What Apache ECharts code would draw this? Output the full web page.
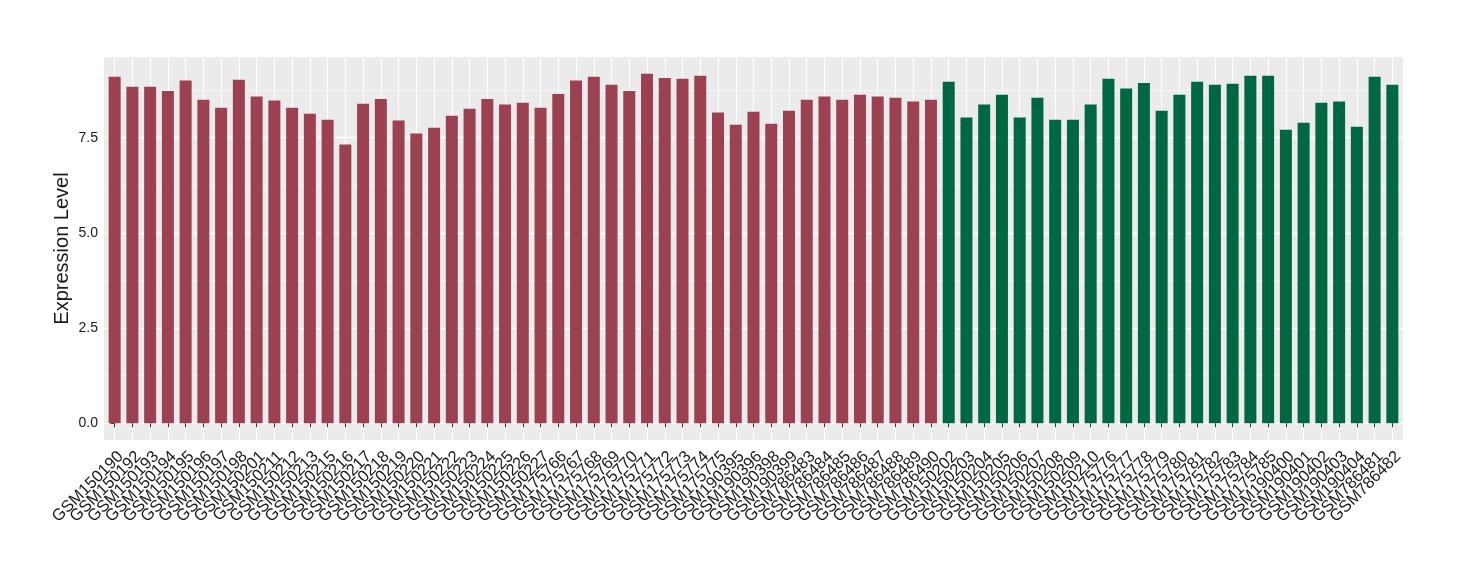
<!DOCTYPE html>
<html>
<head>
<meta charset="utf-8">
<script src="https://cdn.jsdelivr.net/npm/echarts@6/dist/echarts.min.js"></script>
<style>
  html, body { margin: 0; padding: 0; background: #fff; }
  #chart { width: 1460px; height: 580px; }
</style>
</head>
<body>
<div id="chart"></div>
<script>
// first group (red)
const groupASamples = [
  'GSM150190', 'GSM150192', 'GSM150193', 'GSM150194', 'GSM150195', 'GSM150196', 'GSM150197', 'GSM150198',
  'GSM150201', 'GSM150211', 'GSM150212', 'GSM150213', 'GSM150215', 'GSM150216', 'GSM150217', 'GSM150218',
  'GSM150219', 'GSM150220', 'GSM150221', 'GSM150222', 'GSM150223', 'GSM150224', 'GSM150225', 'GSM150226',
  'GSM150227', 'GSM175766', 'GSM175767', 'GSM175768', 'GSM175769', 'GSM175770', 'GSM175771', 'GSM175772',
  'GSM175773', 'GSM175774', 'GSM175775', 'GSM190395', 'GSM190396', 'GSM190398', 'GSM190399', 'GSM786483',
  'GSM786484', 'GSM786485', 'GSM786486', 'GSM786487', 'GSM786488', 'GSM786489', 'GSM786490'
]
const groupAValues = [
  9.10, 8.84, 8.84, 8.73, 9.00, 8.50, 8.29, 9.02,
  8.58, 8.48, 8.29, 8.13, 7.97, 7.32, 8.39, 8.52,
  7.95, 7.61, 7.76, 8.08, 8.26, 8.52, 8.37, 8.42,
  8.29, 8.65, 9.00, 9.10, 8.89, 8.73, 9.18, 9.07,
  9.05, 9.13, 8.16, 7.84, 8.18, 7.87, 8.21, 8.50,
  8.58, 8.50, 8.63, 8.58, 8.55, 8.45, 8.50
]
// second group (green)
const groupBSamples = [
  'GSM150202', 'GSM150203', 'GSM150204', 'GSM150205', 'GSM150206', 'GSM150207', 'GSM150208', 'GSM150209',
  'GSM150210', 'GSM175776', 'GSM175777', 'GSM175778', 'GSM175779', 'GSM175780', 'GSM175781', 'GSM175782',
  'GSM175783', 'GSM175784', 'GSM175785', 'GSM190400', 'GSM190401', 'GSM190402', 'GSM190403', 'GSM190404',
  'GSM786481', 'GSM786482'
]
const groupBValues = [
  8.97, 8.03, 8.37, 8.63, 8.03, 8.55, 7.97, 7.97,
  8.37, 9.05, 8.79, 8.94, 8.21, 8.63, 8.97, 8.89,
  8.92, 9.13, 9.13, 7.71, 7.89, 8.42, 8.45, 7.79,
  9.10, 8.89
]
const yTicks = [0, 2.5, 5, 7.5]
const yMinorTicks = [1.25, 3.75, 6.25, 8.75]

const samples = groupASamples.concat(groupBSamples)
const sampleIdx = samples.map((s, i) => i)
const nA = groupASamples.length

const chart = echarts.init(document.getElementById('chart'))
const textColor = '#1a1a1a'

// panel px and a discrete step with ggplot's 0.6 padding on each side
const panel = { left: 104, right: 57, top: 57, bottom: 140 }
const step = (1460 - panel.left - panel.right) / (samples.length - 1 + 1.2)
const inset = step * 0.1

const option = {
  animation: false,
  backgroundColor: '#ffffff',
  textStyle: { fontFamily: 'Liberation Sans, Arial, sans-serif' },
  grid: [
    {
      left: panel.left, right: panel.right, top: panel.top, bottom: panel.bottom,
      show: true, backgroundColor: '#EBEBEB', borderWidth: 0
    },
    {
      // only for the sample labels
      left: panel.left + inset, right: panel.right + inset, top: panel.top, bottom: panel.bottom,
      show: false
    }
  ],
  xAxis: [
    {
      type: 'value',
      gridIndex: 0,
      min: -0.6,
      max: samples.length - 0.4,
      axisLine: { show: false },
      axisTick: { customValues: sampleIdx, length: 4, lineStyle: { color: '#333', width: 1 } },
      axisLabel: { show: false },
      splitLine: { show: true, lineStyle: { color: '#ffffff', width: 1.1 } }
    },
    {
      type: 'category',
      gridIndex: 1,
      data: samples,
      axisLine: { show: false },
      axisTick: { show: false },
      axisLabel: {
        interval: 0,
        rotate: 45,
        align: 'right',
        verticalAlign: 'top',
        fontSize: 16.5,
        color: textColor,
        margin: 8
      },
      splitLine: { show: false }
    }
  ],
  yAxis: [
    {
      type: 'value',
      gridIndex: 0,
      min: -0.44,
      max: 9.62,
      name: 'Expression Level',
      nameLocation: 'middle',
      nameGap: 32,
      nameMoveOverlap: false,
      nameTextStyle: { fontSize: 20, color: textColor },
      axisLine: { show: false },
      axisTick: { customValues: yTicks, length: 4, lineStyle: { color: '#333', width: 1 } },
      axisLabel: {
        customValues: yTicks,
        formatter: v => v.toFixed(1),
        fontSize: 14,
        color: textColor,
        margin: 6
      },
      splitLine: { show: true, lineStyle: { color: '#ffffff', width: 1.3 } }
    },
    {
      type: 'value',
      gridIndex: 0,
      min: -0.44,
      max: 9.62,
      position: 'left',
      axisLine: { show: false },
      axisTick: { show: false, customValues: yMinorTicks },
      axisLabel: { show: false },
      splitLine: { show: true, lineStyle: { color: '#ffffff', width: 0.6 } }
    },
    {
      type: 'value',
      gridIndex: 1,
      show: false
    }
  ],
  series: [
    {
      type: 'bar',
      stack: 'all',
      barWidth: 12,
      itemStyle: { color: '#9B4151' },
      data: groupAValues.map((v, i) => [i, v])
    },
    {
      type: 'bar',
      stack: 'all',
      barWidth: 12,
      itemStyle: { color: '#006743' },
      data: groupBValues.map((v, i) => [i + nA, v])
    }
  ]
}
chart.setOption(option)
</script>
</body>
</html>
